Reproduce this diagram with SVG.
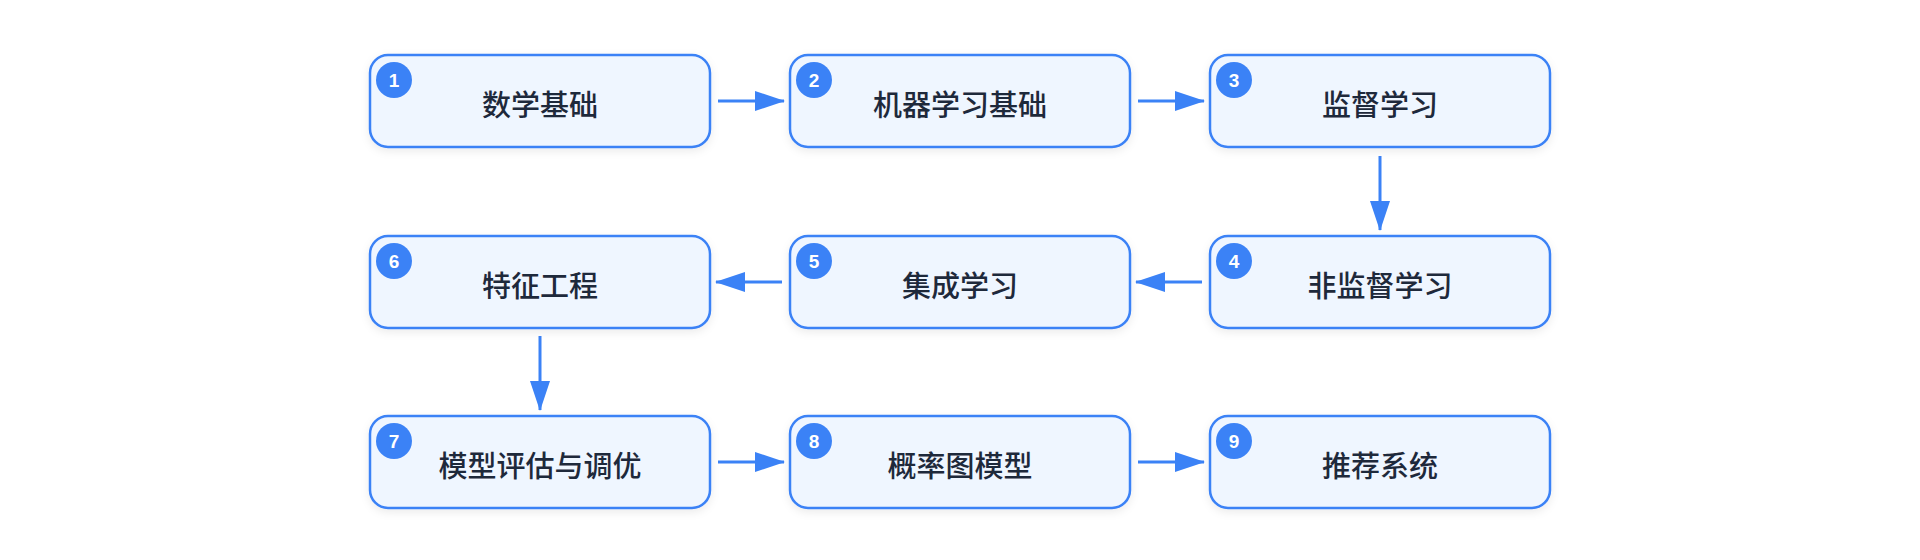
<svg xmlns="http://www.w3.org/2000/svg" width="1920" height="560" viewBox="0 0 1920 560">
  <defs>
    <marker id="arrow" viewBox="0 0 30 20" refX="29" refY="10" markerWidth="30" markerHeight="20" markerUnits="userSpaceOnUse" orient="auto">
      <path d="M0,0 L30,10 L0,20 Z" fill="#3b82f6"/>
    </marker>
    <filter id="shadow" x="-10%" y="-20%" width="120%" height="150%">
      <feDropShadow dx="0" dy="3" stdDeviation="4" flood-color="#0f172a" flood-opacity="0.08"/>
    </filter>
  </defs>
  <style>
    .box { fill: #eff6ff; stroke: #3b82f6; stroke-width: 2.5; filter: url(#shadow); }
    .label { font-family: "Noto Sans CJK SC", "Noto Sans", sans-serif; font-size: 29px; font-weight: 500; fill: #1e293b; text-anchor: middle; dominant-baseline: central; }
    .badge { fill: #3b82f6; }
    .num { font-family: "Liberation Sans", Arial, sans-serif; font-size: 19px; font-weight: bold; fill: #ffffff; text-anchor: middle; dominant-baseline: central; }
    .edge { stroke: #3b82f6; stroke-width: 3; fill: none; marker-end: url(#arrow); }
  </style>
  <rect width="1920" height="560" fill="#ffffff"/>

  <g id="connectors">
    <line class="edge" x1="718" y1="101" x2="784" y2="101"/>
    <line class="edge" x1="1138" y1="101" x2="1204" y2="101"/>
    <line class="edge" x1="1380" y1="156" x2="1380" y2="230"/>
    <line class="edge" x1="1202" y1="282" x2="1136" y2="282"/>
    <line class="edge" x1="782" y1="282" x2="716" y2="282"/>
    <line class="edge" x1="540" y1="336" x2="540" y2="410"/>
    <line class="edge" x1="718" y1="462" x2="784" y2="462"/>
    <line class="edge" x1="1138" y1="462" x2="1204" y2="462"/>
  </g>

  <g id="node1">
    <rect class="box" x="370" y="55" width="340" height="92" rx="18"/>
    <circle class="badge" cx="394" cy="80" r="18"/>
    <text class="num" x="394" y="80">1</text>
    <text class="label" x="540" y="103">数学基础</text>
  </g>
  <g id="node2">
    <rect class="box" x="790" y="55" width="340" height="92" rx="18"/>
    <circle class="badge" cx="814" cy="80" r="18"/>
    <text class="num" x="814" y="80">2</text>
    <text class="label" x="960" y="103">机器学习基础</text>
  </g>
  <g id="node3">
    <rect class="box" x="1210" y="55" width="340" height="92" rx="18"/>
    <circle class="badge" cx="1234" cy="80" r="18"/>
    <text class="num" x="1234" y="80">3</text>
    <text class="label" x="1380" y="103">监督学习</text>
  </g>
  <g id="node4">
    <rect class="box" x="1210" y="236" width="340" height="92" rx="18"/>
    <circle class="badge" cx="1234" cy="261" r="18"/>
    <text class="num" x="1234" y="261">4</text>
    <text class="label" x="1380" y="284">非监督学习</text>
  </g>
  <g id="node5">
    <rect class="box" x="790" y="236" width="340" height="92" rx="18"/>
    <circle class="badge" cx="814" cy="261" r="18"/>
    <text class="num" x="814" y="261">5</text>
    <text class="label" x="960" y="284">集成学习</text>
  </g>
  <g id="node6">
    <rect class="box" x="370" y="236" width="340" height="92" rx="18"/>
    <circle class="badge" cx="394" cy="261" r="18"/>
    <text class="num" x="394" y="261">6</text>
    <text class="label" x="540" y="284">特征工程</text>
  </g>
  <g id="node7">
    <rect class="box" x="370" y="416" width="340" height="92" rx="18"/>
    <circle class="badge" cx="394" cy="441" r="18"/>
    <text class="num" x="394" y="441">7</text>
    <text class="label" x="540" y="464">模型评估与调优</text>
  </g>
  <g id="node8">
    <rect class="box" x="790" y="416" width="340" height="92" rx="18"/>
    <circle class="badge" cx="814" cy="441" r="18"/>
    <text class="num" x="814" y="441">8</text>
    <text class="label" x="960" y="464">概率图模型</text>
  </g>
  <g id="node9">
    <rect class="box" x="1210" y="416" width="340" height="92" rx="18"/>
    <circle class="badge" cx="1234" cy="441" r="18"/>
    <text class="num" x="1234" y="441">9</text>
    <text class="label" x="1380" y="464">推荐系统</text>
  </g>
</svg>
